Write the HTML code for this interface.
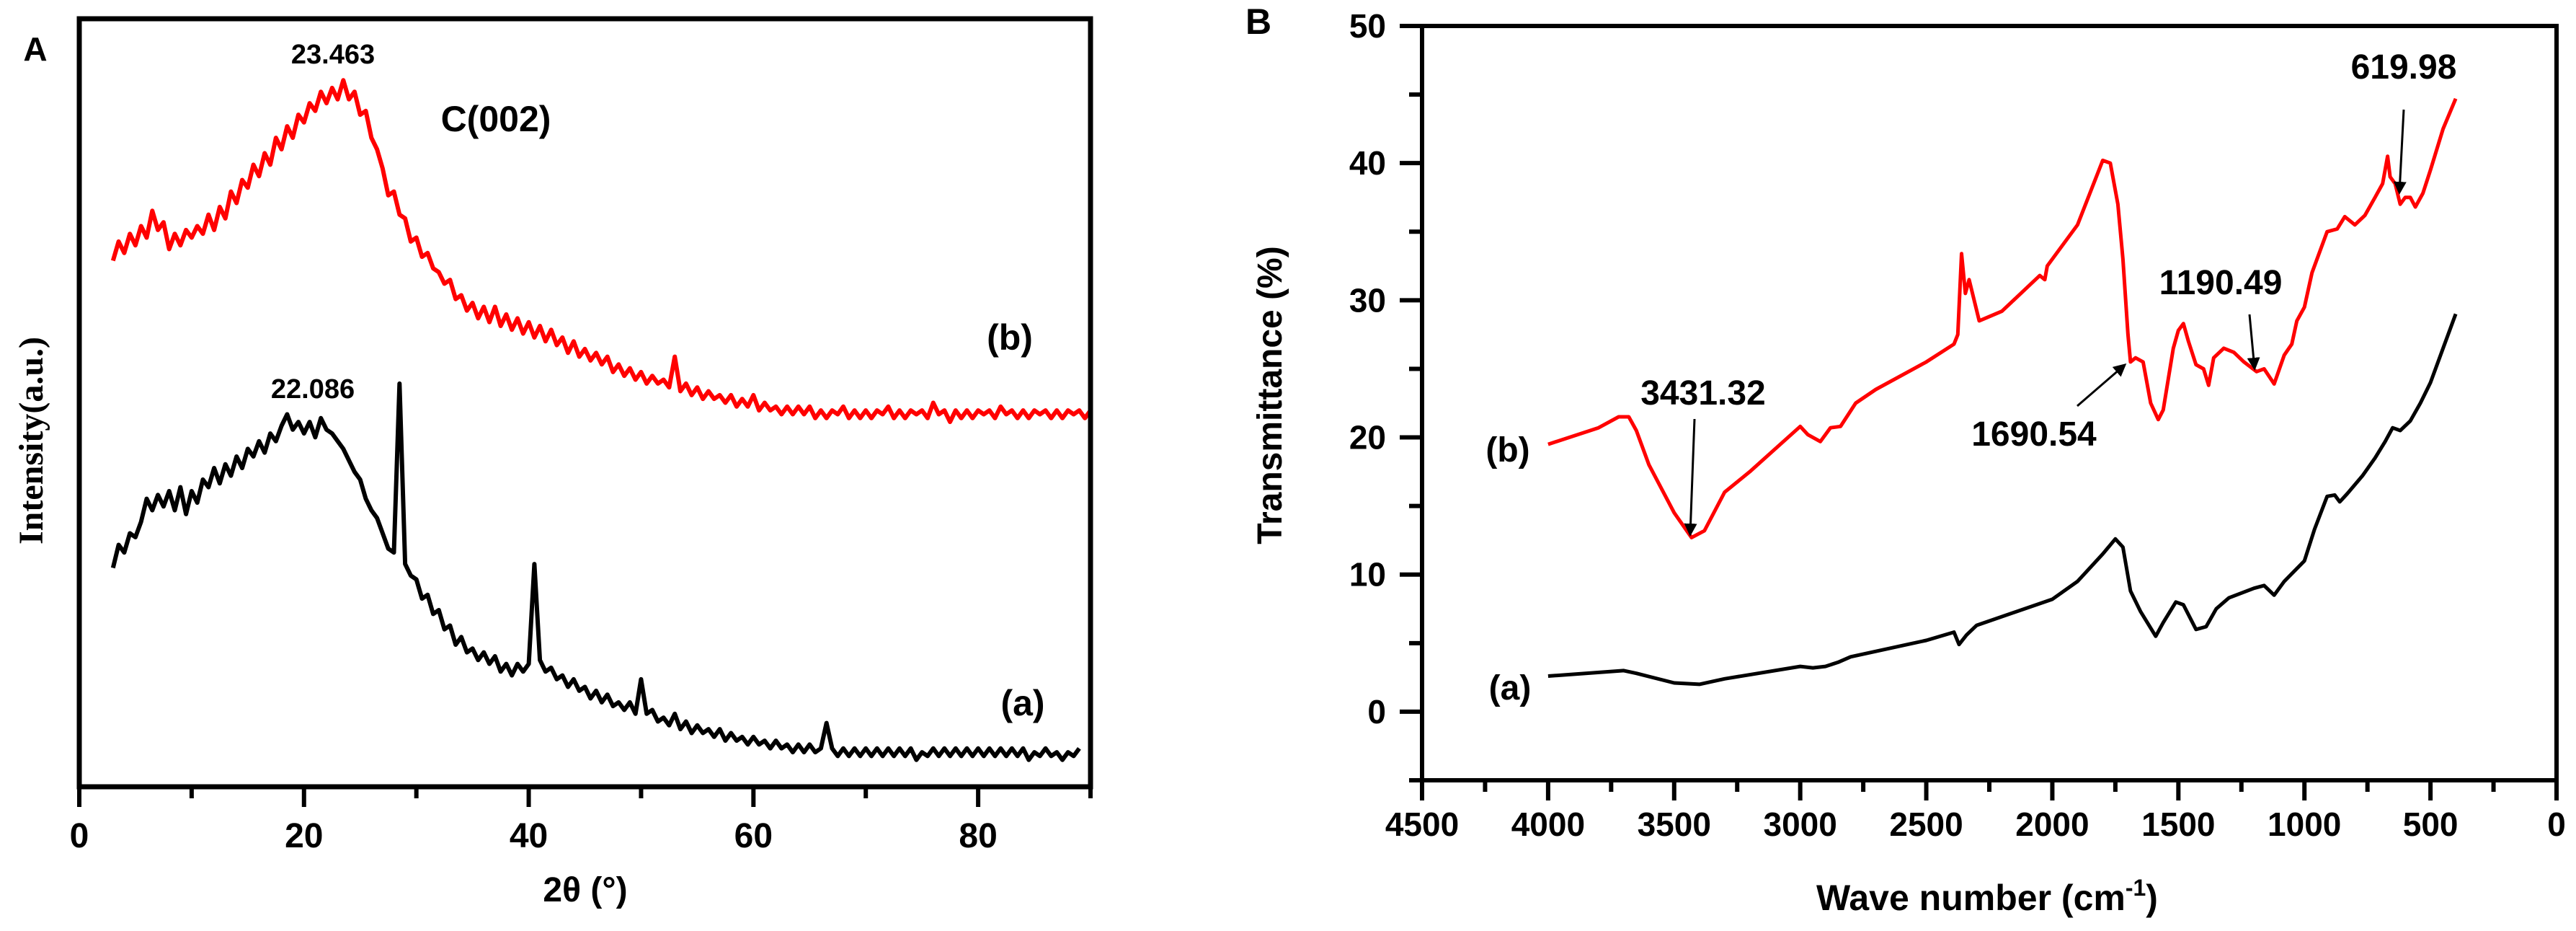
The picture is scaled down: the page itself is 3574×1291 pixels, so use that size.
<!DOCTYPE html>
<html><head><meta charset="utf-8"><style>
html,body{margin:0;padding:0;background:#fff;}
svg{display:block;}
text{font-family:"Liberation Sans",Arial,sans-serif;font-weight:bold;fill:#000;}
</style></head><body>
<svg id="fig" width="3574" height="1291" viewBox="0 0 3574 1291" xmlns="http://www.w3.org/2000/svg">
<g id="pa"></g>
<g id="pb"></g>
</svg>
<script>
// ---------- Panel A data (XRD) ----------
const xrdStart = 3, xrdStep = 0.5;
const xrdB = [68.5,71,69.5,72,70.5,73,71.5,75,72.5,73.5,70,72,70.5,72.5,71.5,73,72,74.5,72.5,75.5,74,77.5,76,79,78,81,79.5,82.5,81,84.5,83,86,84.5,87.5,86.5,89,88,90.5,89,91,89.5,92,89.5,90.5,87.5,88,84.5,83,80.5,77,77.5,74.5,74,71,71.5,69,69.5,67.5,67,65.5,66,63.5,64,62,63,61,62.5,60.5,62.5,60,61.5,59.5,61,59,60.5,58.5,60,58,59.5,57.5,58.5,56.5,58,56,57,55.5,56.5,55,56,54,55,53.5,54.5,53,54,52.5,53.5,52.5,53,52,56,51.5,52.5,51,52,50.5,51.5,50.5,51,50,51,49.5,50.5,49.5,51,49,50,49,49.5,48.5,49.5,48.5,49.5,48.5,49.5,48,49,48,49,48.5,49.5,48,49,48,49,48,49,48.5,49.5,48,49,48,49,48.5,49,48,50,48.5,49,47.5,49,48,49,48,49,48.5,49,48,49.5,48.5,49,48,49,48,49,48.5,49,48,49,48,49,48.5,49,48,49];
const xrdA = [28.5,31.5,30.5,33,32.5,34.5,37.5,36,38,36.5,38.5,36,39,35.5,38.5,37,40,39,41.5,39.5,42,40.5,43,41.5,44,43,45,43.5,46,45,47,48.5,46.5,47.5,46,47.5,45.5,48,46.5,46,45,44,42.5,41,40,37.5,36,35,33,31,30.5,52.5,29,27.5,27,24.5,25,22.5,23,20.5,21,18.5,19.5,17.5,18,16.5,17.5,16,17,15,16,14.5,16,15,16,29,16.5,15,15.5,14,14.5,13,14,12.5,13,11.5,12.5,11,12,10.5,11,10,11,9.5,14,9.5,10,8.5,9,8,9.5,7.5,8.5,7,8,7,7.5,6.5,7.5,6,7,6,6.5,5.5,6.5,5.5,6,5,6,5,5.5,4.5,5.5,4.5,5.5,4.5,5,8.3,5,4,5,4,5,4,5,4,5,4,5,4,5,4,5,3.5,4.5,4,5,4,5,4,5,4,5,4,5,4,5,4,5,4,5,4,5,3.5,4.5,4,5,4,4.5,3.5,4.5,4,5];
const xrdTicks = [0,20,40,60,80];
// ---------- Panel B data (FTIR) ----------
const ftirBw = [4000,3800,3720,3680,3650,3600,3500,3431,3380,3300,3200,3000,2970,2920,2880,2840,2780,2700,2500,2390,2375,2360,2345,2330,2310,2290,2200,2050,2030,2020,1900,1800,1770,1740,1720,1700,1690,1670,1640,1610,1580,1560,1520,1500,1480,1460,1430,1400,1380,1360,1320,1280,1240,1190,1160,1120,1080,1050,1030,1000,970,940,910,870,840,800,760,720,690,670,660,640,620,600,580,560,530,500,450,400];
const ftirBt = [19.5,20.7,21.5,21.5,20.5,18,14.5,12.7,13.2,16,17.5,20.8,20.2,19.7,20.7,20.8,22.5,23.5,25.5,26.8,27.5,33.4,30.5,31.5,30,28.5,29.2,31.8,31.5,32.5,35.5,40.2,40,37,33,27.5,25.5,25.8,25.5,22.5,21.3,22,26.5,27.8,28.3,27,25.3,25,23.8,25.8,26.5,26.2,25.5,24.8,25,23.9,26,26.8,28.5,29.5,32,33.5,35,35.2,36.1,35.5,36.2,37.5,38.5,40.5,39,38.5,37,37.5,37.5,36.8,37.8,39.5,42.5,44.7];
const ftirAw = [4000,3700,3650,3500,3400,3300,3000,2950,2900,2850,2800,2500,2390,2370,2340,2300,2000,1900,1800,1750,1720,1690,1650,1590,1560,1510,1480,1430,1390,1350,1300,1200,1160,1120,1080,1000,960,910,880,860,830,770,720,680,650,620,580,540,500,450,400];
const ftirAt = [2.6,3.0,2.8,2.1,2.0,2.4,3.3,3.2,3.3,3.6,4.0,5.2,5.8,4.9,5.6,6.3,8.2,9.5,11.5,12.6,12.0,8.8,7.3,5.5,6.5,8,7.8,6,6.2,7.5,8.3,9,9.2,8.5,9.5,11,13.3,15.7,15.8,15.3,15.9,17.2,18.5,19.7,20.7,20.5,21.2,22.5,24,26.5,29];
const ftirXTicks = [4500,4000,3500,3000,2500,2000,1500,1000,500,0];
const ftirYTicks = [0,10,20,30,40,50];

const NS='http://www.w3.org/2000/svg';
function mk(parent,tag,attrs,txt){const e=document.createElementNS(NS,tag);for(const k in attrs)e.setAttribute(k,attrs[k]);if(txt!==undefined)e.textContent=txt;parent.appendChild(e);return e;}

// ===== Panel A =====
const pa=document.getElementById('pa');
const AL=110,AR=1513,AT=26,AB=1091;
const ax=v=>AL+(v/90)*(AR-AL);
const ay=v=>AB-v*((AB-AT)/100);
function xrdPath(vals){let d='';vals.forEach((v,i)=>{d+=(i?'L':'M')+ax(xrdStart+i*xrdStep).toFixed(1)+' '+ay(v).toFixed(1);});return d;}
let p=mk(pa,'path',{d:xrdPath(xrdA),fill:'none',stroke:'#000','stroke-width':6,'stroke-linejoin':'round'});


p=mk(pa,'path',{d:xrdPath(xrdB),fill:'none',stroke:'#ff0000','stroke-width':6,'stroke-linejoin':'round'});


let fr=mk(pa,'rect',{x:AL,y:AT,width:AR-AL,height:AB-AT,fill:'none',stroke:'#000','stroke-width':7});


for(let v=0;v<=90;v+=10){
  const major=(v%20===0);
  const t=mk(pa,'line',{x1:ax(v),x2:ax(v),y1:AB,y2:AB+(major?28:16),stroke:'#000','stroke-width':6});
  
  
}
xrdTicks.forEach(v=>{
  const t=mk(pa,'text',{x:ax(v),y:1175,'font-size':48,'text-anchor':'middle'},String(v));
  
  
});
</script>
<script>
// static labels panel A
(function(){
const pa=document.getElementById('pa');
function t(x,y,s,txt,name,extra){const e=document.createElementNS('http://www.w3.org/2000/svg','text');e.setAttribute('x',x);e.setAttribute('y',y);e.setAttribute('font-size',s);e.setAttribute('text-anchor','middle');if(extra)for(const k in extra)e.setAttribute(k,extra[k]);e.textContent=txt;


pa.appendChild(e);return e;}
t(49,84,46,'A','panel-a-label');
t(462,88,38,'23.463','peak-label-23463');
t(688,182,50,'C(002)','peak-label-c002');
t(1401,485,50,'(b)','curve-label-b-a');
t(434,552,38,'22.086','peak-label-22086');
t(1419,992,50,'(a)','curve-label-a-a');
t(812,1250,48,'2θ (°)','x-axis-title-a');
t(43,611,48,'Intensity(a.u.)','y-axis-title-a',{transform:'rotate(-90 43 611)',dy:'16','style':'font-family:"Liberation Serif",serif'});
})();
</script>
<script>
// ===== Panel B =====
(function(){
const NS='http://www.w3.org/2000/svg';
const pb=document.getElementById('pb');
function mk(tag,attrs,txt){const e=document.createElementNS(NS,tag);for(const k in attrs)e.setAttribute(k,attrs[k]);if(txt!==undefined)e.textContent=txt;pb.appendChild(e);return e;}
const BL=1973,BR=3547,BT=36,BB=1082;
const bx=w=>BL+(4500-w)/4500*(BR-BL);
const by=v=>BB-(v+5)/55*(BB-BT);
function path(ws,ts){return ws.map((w,i)=>(i?'L':'M')+bx(w).toFixed(1)+' '+by(ts[i]).toFixed(1)).join('');}
let e=mk('path',{d:path(ftirAw,ftirAt),fill:'none',stroke:'#000','stroke-width':5,'stroke-linejoin':'round'});


e=mk('path',{d:path(ftirBw,ftirBt),fill:'none',stroke:'#ff0000','stroke-width':5,'stroke-linejoin':'round'});


e=mk('rect',{x:BL,y:BT,width:BR-BL,height:BB-BT,fill:'none',stroke:'#000','stroke-width':6});


for(let w=0;w<=4500;w+=250){
  const major=(w%500===0);
  e=mk('line',{x1:bx(w),x2:bx(w),y1:BB,y2:BB+(major?28:16),stroke:'#000','stroke-width':6});
  
  
}
for(let v=-5;v<=50;v+=5){
  const major=(v%10===0);
  e=mk('line',{x1:BL,x2:BL-(major?31:18),y1:by(v),y2:by(v),stroke:'#000','stroke-width':6});
  
  
}
ftirXTicks.forEach(w=>{
  e=mk('text',{x:bx(w),y:1159,'font-size':46,'text-anchor':'middle'},String(w));
  
  
});
ftirYTicks.forEach(v=>{
  e=mk('text',{x:1923,y:by(v)+16,'font-size':46,'text-anchor':'end'},String(v));
  
  
});
function lab(x,y,s,txt,name,extra){const a={x:x,y:y,'font-size':s,'text-anchor':'middle'};if(extra)Object.assign(a,extra);const t=mk('text',a,txt);


return t;}
lab(1746,47,50,'B','panel-b-label');
lab(2092,640,48,'(b)','curve-label-b-b');
lab(2095,970,48,'(a)','curve-label-a-b');
lab(2363,561,48,'3431.32','peak-label-3431');
lab(2822,618,48,'1690.54','peak-label-1690');
lab(3081,408,48,'1190.49','peak-label-1190');
lab(3335,109,48,'619.98','peak-label-619');
const ttl=lab(2757,1262,50,'Wave number (cm','x-axis-title-b');
const sup=document.createElementNS(NS,'tspan');sup.setAttribute('dy','-20');sup.setAttribute('font-size','32');sup.textContent='-1';ttl.appendChild(sup);
const cl=document.createElementNS(NS,'tspan');cl.setAttribute('dy','20');cl.textContent=')';ttl.appendChild(cl);
lab(1761,548,48,'Transmittance (%)','y-axis-title-b',{transform:'rotate(-90 1761 548)',dy:'17'});
const defs=mk('defs',{});
const m=document.createElementNS(NS,'marker');
m.setAttribute('id','ah');m.setAttribute('markerWidth','6');m.setAttribute('markerHeight','6');m.setAttribute('refX','5');m.setAttribute('refY','3');m.setAttribute('orient','auto');m.setAttribute('markerUnits','strokeWidth');
const mp=document.createElementNS(NS,'path');mp.setAttribute('d','M0,0 L6,3 L0,6 z');mp.setAttribute('fill','#000');m.appendChild(mp);defs.appendChild(m);
function arrow(x1,y1,x2,y2,name){const a=mk('line',{x1:x1,y1:y1,x2:x2,y2:y2,stroke:'#000','stroke-width':3,'marker-end':'url(#ah)'});

}
arrow(2351,581,2345,741,'arrow-3431');
arrow(2882,563,2948,506,'arrow-1690');
arrow(3121,436,3128,511,'arrow-1190');
arrow(3335,152,3329,267,'arrow-619');
})();
</script>
</body></html>
